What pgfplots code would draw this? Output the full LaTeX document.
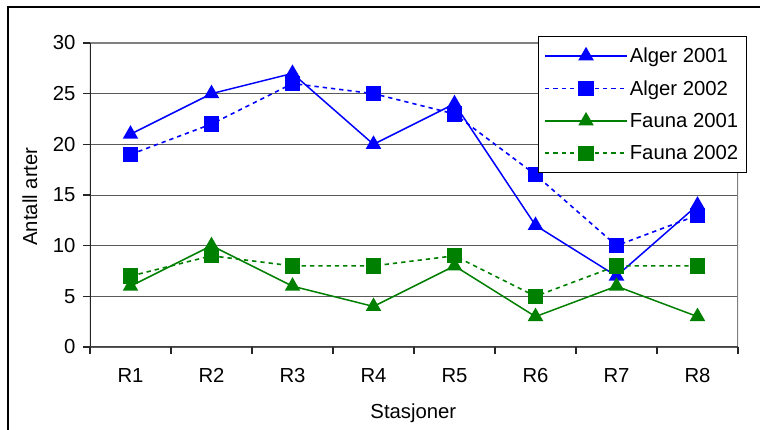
\documentclass[border=0pt]{standalone}
\usepackage{fontspec}
\setmainfont{Liberation Sans}
\usepackage{pgfplots}
\pgfplotsset{compat=1.18}
\definecolor{xlgreen}{RGB}{0,128,0}
\definecolor{xlblue}{RGB}{0,0,255}
\definecolor{gridc}{RGB}{90,90,90}
\definecolor{framec}{RGB}{128,128,128}
\begin{document}
\begin{tikzpicture}
\useasboundingbox (-90pt,-83pt) rectangle (670pt,347pt);
\clip (-90pt,-83pt) rectangle (670pt,347pt);
\fill[white] (-90pt,-83pt) rectangle (670pt,347pt);
\draw[line width=1.3pt] (-82pt,-120pt) rectangle (700pt,340pt);
\begin{axis}[
  at={(0pt,0pt)}, anchor=south west,
  scale only axis, width=648pt, height=304pt,
  xmin=0.5, xmax=8.5, ymin=0, ymax=30,
  xtick={0.5,1.5,...,8.5},
  x tick label as interval,
  xticklabels={R1,R2,R3,R4,R5,R6,R7,R8},
  ytick={0,5,...,30},
  ymajorgrids,
  major grid style={draw=gridc, line width=0.9pt},
  tick align=outside, xtick pos=bottom, ytick pos=left,
  major tick length=7pt,
  tick style={draw=black!85, line width=1.1pt},
  axis line style={draw=none},
  /pgf/number format/assume math mode=true,
  tick label style={font=\fontsize{20.3}{24}\selectfont},
  xticklabel style={yshift=-11pt},
  yticklabel style={xshift=-4pt},
  label style={font=\fontsize{20.3}{24}\selectfont},
  xlabel={Stasjoner},
  ylabel={Antall arter},
  xlabel style={at={(axis description cs:0.499,-0.219)}, anchor=center},
  ylabel style={at={(axis description cs:-0.0926,0.495)}, anchor=center},
  legend style={at={(0.6914,1.023)}, anchor=north west, draw=black,
    fill=white, font=\fontsize{20.3}{24}\selectfont, row sep=12.5pt,
    inner xsep=6pt, inner ysep=9.5pt},
  legend cell align=left,
  legend image code/.code={\draw[mark repeat=2,mark phase=2] plot coordinates {(0pt,0pt) (41pt,0pt) (82pt,0pt)};},
]
\addplot[xlblue, line width=1.5pt, mark=triangle*, mark size=7.5pt, mark options={solid, fill=xlblue}]
  coordinates {(1,21) (2,25) (3,27) (4,20) (5,24) (6,12) (7,7) (8,14)};
\addlegendentry{Alger 2001}
\addplot[xlblue, line width=1.6pt, dash pattern=on 4.3pt off 4pt, mark=square*, mark size=6.8pt, mark options={solid, fill=xlblue}]
  coordinates {(1,19) (2,22) (3,26) (4,25) (5,23) (6,17) (7,10) (8,13)};
\addlegendentry{Alger 2002}
\addplot[xlgreen, line width=1.5pt, mark=triangle*, mark size=7.5pt, mark options={solid, fill=xlgreen}]
  coordinates {(1,6) (2,10) (3,6) (4,4) (5,8) (6,3) (7,6) (8,3)};
\addlegendentry{Fauna 2001}
\addplot[xlgreen, line width=1.6pt, dash pattern=on 4.3pt off 4pt, mark=square*, mark size=6.8pt, mark options={solid, fill=xlgreen}]
  coordinates {(1,7) (2,9) (3,8) (4,8) (5,9) (6,5) (7,8) (8,8)};
\addlegendentry{Fauna 2002}
\draw[framec, line width=1.8pt] (rel axis cs:0,1) -- (rel axis cs:1,1) -- (rel axis cs:1,0);
\draw[black!85, line width=1.4pt] (rel axis cs:0,0) -- (rel axis cs:0,1);
\draw[black!75, line width=1.8pt] (rel axis cs:0,0) -- (rel axis cs:1,0);
\end{axis}
\end{tikzpicture}
\end{document}
